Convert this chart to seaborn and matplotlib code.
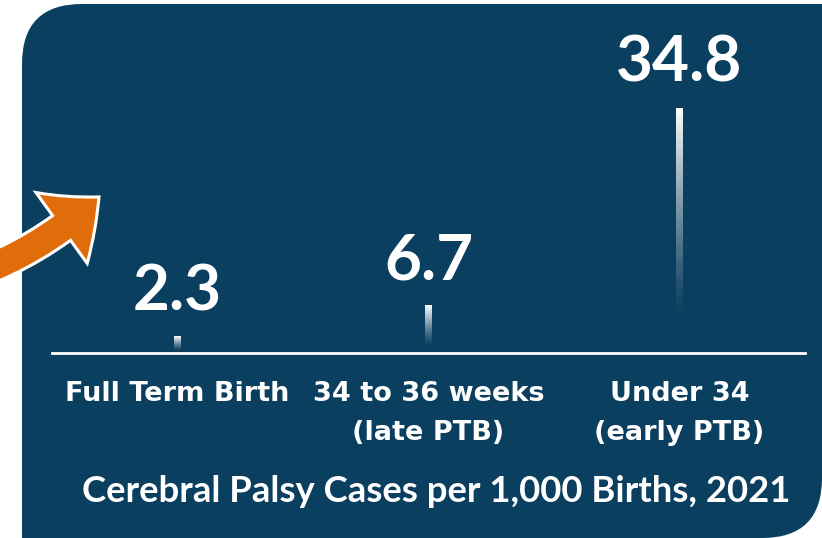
import numpy as np
import pandas as pd
import matplotlib.pyplot as plt
import seaborn as sns
from matplotlib.patches import FancyBboxPatch, Rectangle, FancyArrowPatch

sns.set_theme(style="white")
plt.rcParams['font.family'] = ['Lato', 'DejaVu Sans']

# data
categories = ["Full Term Birth", "34 to 36 weeks\n(late PTB)", "Under 34\n(early PTB)"]
rates = [2.3, 6.7, 34.8]
value_labels = ["2.3", "6.7", "34.8"]
title = "Cerebral Palsy Cases per 1,000 Births, 2021"

navy = "#0B3F5F"
orange = "#E06C0A"

W, H = 822, 538
fig = plt.figure(figsize=(W / 100, H / 100), dpi=100)
fig.patch.set_facecolor("white")

# background panel, in pixel units (y down)
bg = fig.add_axes([0, 0, 1, 1], zorder=0)
bg.set_xlim(0, W)
bg.set_ylim(H, 0)
bg.axis("off")
bg.add_patch(FancyBboxPatch((22, 4), W - 22, H - 4,
                            boxstyle="round,pad=0,rounding_size=60",
                            fc=navy, ec="none"))
bg.add_patch(Rectangle((W - 80, 4), 80, 80, fc=navy, ec="none"))
bg.add_patch(Rectangle((22, H - 80), 80, 80, fc=navy, ec="none"))

# orange arrow
arrow = FancyArrowPatch((-60, 285), (101, 195), connectionstyle="arc3,rad=0.13",
                        arrowstyle="simple,head_length=35,head_width=63,tail_width=22",
                        mutation_scale=1, fc=orange, ec="white", lw=2.2,
                        joinstyle="miter", zorder=3)
bg.add_patch(arrow)

bg.text(436.5, 491, title, ha="center", va="center", color="white",
        fontsize=26.3, fontweight="bold")

# bars
ax = fig.add_axes([52 / W, (H - 353) / H, (805 - 52) / W, 349 / H], zorder=1)
ax.set_facecolor("none")
df = pd.DataFrame({"category": categories, "rate": rates})
sns.barplot(data=df, x="category", y="rate", color="white", width=0.024,
            saturation=1, ax=ax)

t = np.linspace(0, 1, 256)
alpha = np.clip((t - 0.15) / 0.85, 0, 1) ** 1.2
grad = np.ones((256, 1, 4))
grad[:, 0, 3] = alpha
for p in list(ax.patches):
    x0, y0 = p.get_x(), p.get_y()
    w, h = p.get_width(), p.get_height()
    ax.imshow(grad, extent=[x0, x0 + w, y0, y0 + h], origin="lower",
              aspect="auto", interpolation="bilinear", zorder=2)
    p.set_visible(False)

for i, (v, lbl) in enumerate(zip(rates, value_labels)):
    ax.annotate(lbl, xy=(i, v), xytext=(0, 19), textcoords="offset points",
                ha="center", va="baseline", color="white",
                fontsize=46, fontweight="bold")

ax.set_xlim(-0.5, 2.5)
ax.set_ylim(0, 349 / 7.04)
ax.set_xlabel("")
ax.set_ylabel("")
ax.set_yticks([])
for s in ["top", "left", "right"]:
    ax.spines[s].set_visible(False)
ax.spines["bottom"].set_color("white")
ax.spines["bottom"].set_linewidth(2)
ax.tick_params(axis="x", length=0, pad=20.5, colors="white")
for lab in ax.get_xticklabels():
    lab.set_fontfamily("DejaVu Sans")
    lab.set_fontweight("bold")
    lab.set_fontsize(19.5)
    lab.set_linespacing(1.62)
    lab.set_color("white")

fig.savefig("out.png", dpi=100, facecolor="white")
